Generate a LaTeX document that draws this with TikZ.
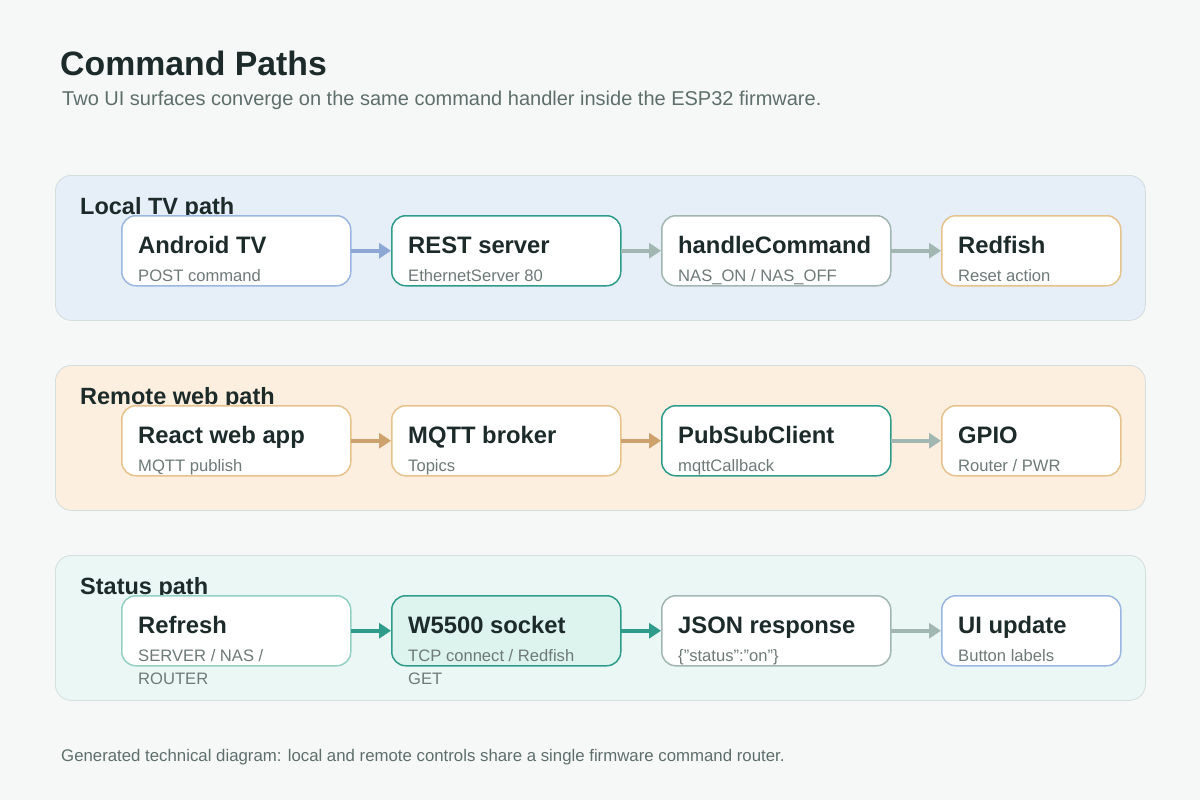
\documentclass[tikz,border=0pt]{standalone}
\usepackage{fontspec}
\setmainfont{Liberation Sans}
\usetikzlibrary{arrows.meta,calc}
\definecolor{bg}{HTML}{F6F8F7}
\definecolor{pborder}{HTML}{D3DEDD}
\definecolor{pblue}{HTML}{E6EEF8}
\definecolor{porange}{HTML}{FDEFDF}
\definecolor{pteal}{HTML}{EBF7F4}
\definecolor{dark}{HTML}{1C2B2A}
\definecolor{greytxt}{HTML}{5E6E6B}
\definecolor{subtxt}{HTML}{6E7A78}
\definecolor{cblue}{HTML}{9CB6E2}
\definecolor{ablue}{HTML}{8DA7D5}
\definecolor{cteal}{HTML}{2F9C8B}
\definecolor{cgrey}{HTML}{A2B7B1}
\definecolor{corange}{HTML}{E6C28C}
\definecolor{aorange}{HTML}{CDA26C}
\definecolor{clteal}{HTML}{94D0C4}
\definecolor{wfill}{HTML}{DDF3EE}
\tikzset{
  panel/.style={draw=pborder, line width=0.8pt, rounded corners=16pt, anchor=north west,
    minimum width=1090pt, minimum height=145pt, inner sep=0pt},
  plabel/.style={anchor=base west, inner sep=0pt, text=dark, font=\bfseries\fontsize{23.5}{28}\selectfont},
  box/.style={draw, rounded corners=14pt, line width=1.5pt, fill=white, anchor=north west,
    minimum height=70pt, inner sep=0pt},
  ttl/.style={anchor=base west, inner sep=0pt, text=dark, font=\bfseries\fontsize{23.8}{28}\selectfont},
  sub/.style={anchor=base west, inner sep=0pt, text=subtxt, font=\fontsize{16.6}{23}\selectfont},
  arr/.style={line width=3.6pt, shorten <=-0.8pt, -{Triangle[length=12pt,width=15pt]}},
}
\newcommand\cnode[7]{%
  \node[box,#5,minimum width=#4pt] (#1) at (#2,#3) {};
  \node[ttl] (#1t) at ($(#1.north west)+(17,38)$) {#6};
  \node[sub] (#1s) at ($(#1.north west)+(17,66)$) {#7};
}
\begin{document}
\begin{tikzpicture}[x=1pt,y=-1pt]
\useasboundingbox[fill=bg] (0,0) rectangle (1200,800);
\node[anchor=base west, inner sep=0pt, text=dark, font=\bfseries\fontsize{33.8}{40}\selectfont] (title) at (60,76) {Command Paths};
\node[anchor=base west, inner sep=0pt, text=greytxt, font=\fontsize{20}{24}\selectfont] (subtitle) at (62,106) {Two UI surfaces converge on the same command handler inside the ESP32 firmware.};
% panels
\node[panel, fill=pblue] (p1) at (55,175) {};
\node[panel, fill=porange] (p2) at (55,365) {};
\node[panel, fill=pteal] (p3) at (55,555) {};
\node[plabel] (p1l) at (80,214) {Local TV path};
\node[plabel] (p2l) at (80,404) {Remote web path};
\node[plabel] (p3l) at (80,594) {Status path};
% row 1
\cnode{atv}{121}{215}{229}{draw=cblue}{Android TV}{POST command}
\cnode{rest}{391}{215}{229}{draw=cteal}{REST server}{EthernetServer 80}
\cnode{hc}{661}{215}{229}{draw=cgrey}{handleCommand}{NAS\_ON / NAS\_OFF}
\cnode{rf}{941}{215}{179}{draw=corange}{Redfish}{Reset action}
\draw[arr, ablue] (atv.east) -- (rest.west);
\draw[arr, cgrey] (rest.east) -- (hc.west);
\draw[arr, cgrey] (hc.east) -- (rf.west);
% row 2
\cnode{web}{121}{405}{229}{draw=corange}{React web app}{MQTT publish}
\cnode{mq}{391}{405}{229}{draw=corange}{MQTT broker}{Topics}
\cnode{psc}{661}{405}{229}{draw=cteal}{PubSubClient}{mqttCallback}
\cnode{gp}{941}{405}{179}{draw=corange}{GPIO}{Router / PWR}
\draw[arr, aorange] (web.east) -- (mq.west);
\draw[arr, aorange] (mq.east) -- (psc.west);
\draw[arr, cgrey] (psc.east) -- (gp.west);
% row 3
\cnode{rfr}{121}{595}{229}{draw=clteal}{Refresh}{\parbox[t]{200pt}{\raggedright SERVER / NAS /\\ROUTER}}
\cnode{w55}{391}{595}{229}{draw=cteal, fill=wfill}{W5500 socket}{\parbox[t]{200pt}{\raggedright TCP connect / Redfish\\GET}}
\cnode{js}{661}{595}{229}{draw=cgrey}{JSON response}{\{"status":"on"\}}
\cnode{ui}{941}{595}{179}{draw=cblue}{UI update}{Button labels}
\draw[arr, cteal] (rfr.east) -- (w55.west);
\draw[arr, cteal] (w55.east) -- (js.west);
\draw[arr, cgrey] (js.east) -- (ui.west);
\node[anchor=base west, inner sep=0pt, text=greytxt, font=\fontsize{16.8}{20}\selectfont] (caption) at (61,761) {Generated technical diagram: local and remote controls share a single firmware command router.};
\end{tikzpicture}
\end{document}
